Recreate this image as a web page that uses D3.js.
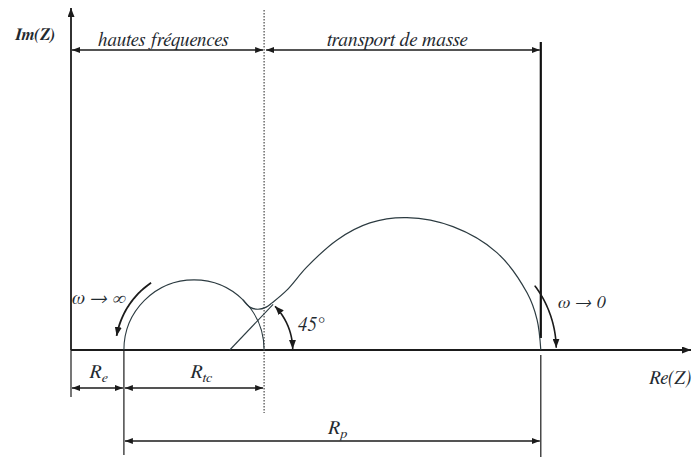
<!DOCTYPE html>
<html><head><meta charset="utf-8">
<script src="https://cdn.jsdelivr.net/npm/d3@7"></script>
<style>
html,body{margin:0;padding:0;background:#fff;}
</style></head>
<body>
<svg id="chart" width="693" height="459"></svg>
<script>
// ---- data (impedance units) ----
const resistanceMarks = [0, 1.0, 3.65, 8.88];          // origin, Re, Re+Rtc, Re+Rp on Re(Z)
const resistanceNames = ["R_e", "R_tc", "R_p"];
const warburgLine = [[3.0, 0], [3.82, 0.86]];            // 45° diffusion line
const transportCurve = [
  [3.25, 0.945], [3.38, 0.81], [3.53, 0.77], [3.69, 0.81], [3.80, 0.89],
  [4.08, 1.13], [4.46, 1.57], [5.03, 2.08], [5.65, 2.40], [6.35, 2.50],
  [7.22, 2.33], [8.05, 1.84], [8.62, 1.08], [8.81, 0.57], [8.88, 0]
];
const regionLabels = ["hautes fréquences", "transport de masse"];
const axisLabels = ["Im(Z)", "Re(Z)"];
const freqLabels = ["ω → ∞", "ω → 0"];
const angleLabel = "45°";

// ---- scales ----
const FONT = "FreeSerif";
const svg = d3.select("#chart");
const x = d3.scaleLinear().domain([0, 11.7]).range([71, 690]);
const y = d3.scaleLinear().domain([0, 6.46]).range([350, 8]);
const ink = "#1b1b1b", thin = "#2c3b41";

const defs = svg.append("defs");
function marker(id, w, l) {
  defs.append("marker").attr("id", id).attr("viewBox", `0 ${-w} ${l} ${2*w}`)
    .attr("refX", l).attr("refY", 0).attr("markerWidth", l).attr("markerHeight", 2*w)
    .attr("markerUnits", "userSpaceOnUse").attr("orient", "auto-start-reverse")
    .append("path").attr("d", `M0,${-w}L${l},0L0,${w}Z`).attr("fill", ink);
}
marker("ah", 3.5, 9);
marker("ahs", 3, 8);

const [x0, xRe, xTc, xP] = resistanceMarks.map(v => x(v));
const yAxis0 = y(0);

function txt(xx, yy, size) {
  return svg.append("text").attr("x", xx).attr("y", yy).attr("font-size", size)
    .attr("font-family", FONT).attr("font-style", "italic").attr("fill", "#1f2a30");
}

// axes
svg.append("line").attr("x1", x0).attr("y1", yAxis0).attr("x2", x0).attr("y2", y(6.46))
  .attr("stroke", ink).attr("stroke-width", 1.8).attr("marker-end", "url(#ah)");
svg.append("line").attr("x1", x0).attr("y1", yAxis0).attr("x2", 691).attr("y2", yAxis0)
  .attr("stroke", ink).attr("stroke-width", 1.8).attr("marker-end", "url(#ah)");

// vertical reference lines
svg.append("line").attr("x1", x0).attr("x2", x0).attr("y1", yAxis0).attr("y2", 397).attr("stroke", ink).attr("stroke-width", 1.2);
svg.append("line").attr("x1", xRe).attr("x2", xRe).attr("y1", yAxis0).attr("y2", 455).attr("stroke", ink).attr("stroke-width", 1.2);
svg.append("line").attr("x1", xP).attr("x2", xP).attr("y1", 355).attr("y2", 457).attr("stroke", ink).attr("stroke-width", 1.2);
svg.append("line").attr("x1", xP).attr("x2", xP).attr("y1", 42).attr("y2", 338).attr("stroke", "#111").attr("stroke-width", 2.2);
svg.append("line").attr("x1", xTc).attr("x2", xTc).attr("y1", 10).attr("y2", 413)
  .attr("stroke", "#555").attr("stroke-width", 1.3).attr("stroke-dasharray", "1.5,1.5");

// small semicircle (charge transfer)
const rSmall = (xTc - xRe) / 2;
svg.append("path").attr("d", `M${xRe},${yAxis0} A${rSmall},${rSmall} 0 0 1 ${xTc},${yAxis0}`)
  .attr("fill", "none").attr("stroke", thin).attr("stroke-width", 1.1);

// Warburg line
svg.append("path").attr("d", d3.line().x(d => x(d[0])).y(d => y(d[1]))(warburgLine))
  .attr("fill", "none").attr("stroke", thin).attr("stroke-width", 1.1);

// transport curve
svg.append("path").attr("d", d3.line().x(d => x(d[0])).y(d => y(d[1])).curve(d3.curveCatmullRom)(transportCurve))
  .attr("fill", "none").attr("stroke", thin).attr("stroke-width", 1.2);

// arc helper (angles in degrees, counter-clockwise from +x, screen y up)
function arcPath(cx, cy, r, a0, a1) {
  const p = d3.path();
  const pts = d3.range(0, 41).map(i => a0 + (a1 - a0) * i / 40);
  pts.forEach((a, i) => {
    const t = a * Math.PI / 180, px = cx + r * Math.cos(t), py = cy - r * Math.sin(t);
    i ? p.lineTo(px, py) : p.moveTo(px, py);
  });
  return p.toString();
}
// ω→∞ arrow
svg.append("path").attr("d", arcPath(x(2.37), yAxis0, 81, 124, 170))
  .attr("fill", "none").attr("stroke", ink).attr("stroke-width", 1.8).attr("marker-end", "url(#ah)");
// ω→0 arrow
svg.append("path").attr("d", arcPath(x(7.15), yAxis0, 107, 37, 1.2))
  .attr("fill", "none").attr("stroke", ink).attr("stroke-width", 1.6).attr("marker-end", "url(#ah)");
// 45° arrow
const cW = x(warburgLine[0][0]);
svg.append("path").attr("d", arcPath(cW, yAxis0, 63, 44, 1))
  .attr("fill", "none").attr("stroke", ink).attr("stroke-width", 1.6)
  .attr("marker-start", "url(#ah)").attr("marker-end", "url(#ah)");

// dimension arrows
function dim(xa, xb, yy) {
  svg.append("line").attr("x1", xa).attr("x2", xb).attr("y1", yy).attr("y2", yy)
    .attr("stroke", ink).attr("stroke-width", 1.5)
    .attr("marker-start", "url(#ahs)").attr("marker-end", "url(#ahs)");
}
dim(x0 + 1, xTc - 1, 50);
dim(xTc + 2, xP - 1, 50);
dim(x0 + 1, xRe - 1, 388);
dim(xRe + 1, xTc - 1, 388);
dim(xRe + 1, xP - 1, 441);

// region labels
txt(98, 46, 19).text(regionLabels[0]);
txt(327, 46, 19.5).text(regionLabels[1]);

// axis labels
txt(15, 40, 17).attr("font-weight", "bold").text(axisLabels[0]);
txt(649, 384, 19).text(axisLabels[1]);

// frequency labels
txt(72, 304, 19).text(freqLabels[0]);
txt(558, 308, 18).text(freqLabels[1]);
txt(298, 331, 19).text(angleLabel);

// resistance labels with subscripts
function rLabel(name, cx, by, size) {
  const [main, sub] = name.split("_");
  const t = txt(cx, by, size).attr("text-anchor", "middle");
  t.append("tspan").text(main);
  t.append("tspan").attr("dy", 4).attr("font-size", size * 0.72).text(sub);
}
rLabel(resistanceNames[0], (x0 + xRe) / 2 + 1, 378, 20);
rLabel(resistanceNames[1], (xRe + xTc) / 2 + 7, 378, 20);
rLabel(resistanceNames[2], (xRe + xP) / 2 + 5, 434, 20);
</script>
</body></html>
